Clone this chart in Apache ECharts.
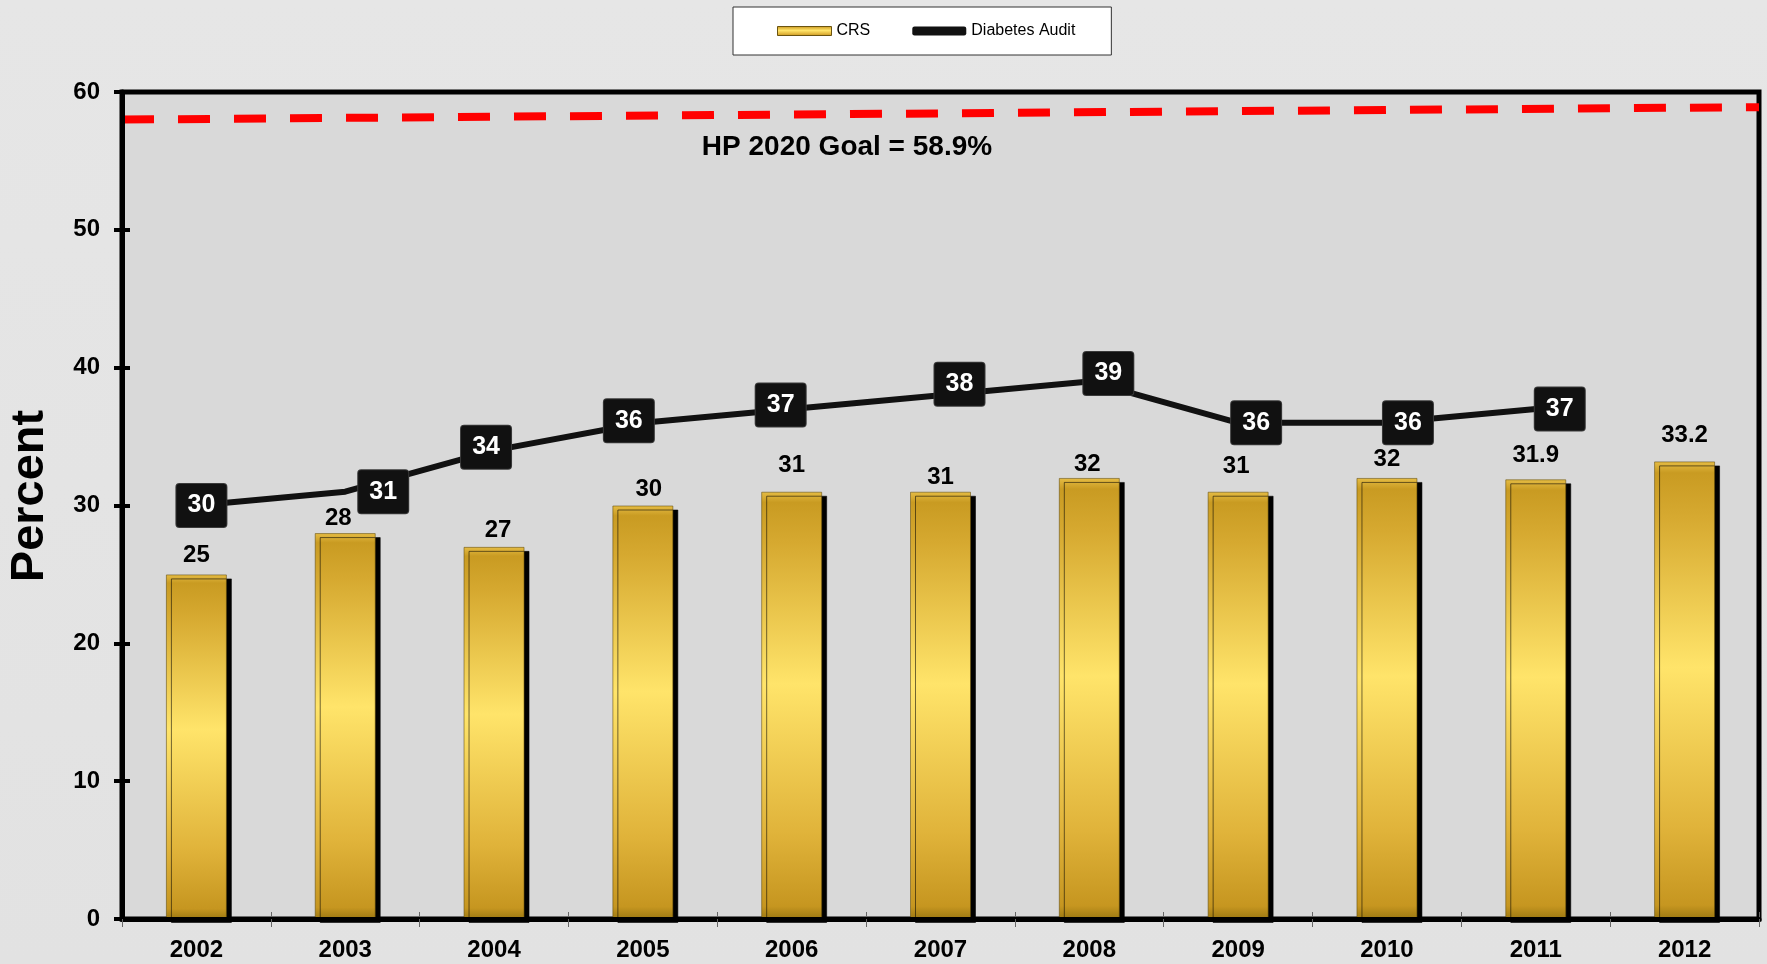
<!DOCTYPE html>
<html>
<head>
<meta charset="utf-8">
<script src="https://cdn.jsdelivr.net/npm/echarts@6/dist/echarts.min.js"></script>
<style>
html,body{margin:0;padding:0;width:1767px;height:964px;overflow:hidden;}
#c{width:1767px;height:964px;background:linear-gradient(180deg,#e6e6e6 0%,#e2e2e2 100%);}
</style>
</head>
<body>
<div id="c"></div>
<script>
var years = ['2002','2003','2004','2005','2006','2007','2008','2009','2010','2011','2012'];
var crs = [25, 28, 27, 30, 31, 31, 32, 31, 32, 31.9, 33.2];
var diabetesAudit = [30, 31, 34, 36, 37, 38, 39, 36, 36, 37, null];
var goalLine = [[0, 58], [11, 58.9]];
var goalText = 'HP 2020 Goal = 58.9%';

var FONT = '"Liberation Sans", Arial, sans-serif';
var chart = echarts.init(document.getElementById('c'), null, {renderer: 'canvas'});

// label placement nudges (pixels), as in the original slide
var barLabelNudge = [[0,-4],[-7,0],[4,-1],[6,-1],[0,-11],[0,1],[-2,1],[-2,-10],[0,-4],[0,-9],[0,-11]];
var lineLabelNudge = [[5,0],[38,0],[-8,-3],[-14,-2],[-11,-4],[19,-11],[19,-8],[18,0],[21,0],[24,0],[0,0]];

var barGrad = new echarts.graphic.LinearGradient(0, 0, 0, 1, [
  {offset: 0, color: '#e6bd45'},
  {offset: 0.025, color: '#c99b22'},
  {offset: 0.12, color: '#d6a930'},
  {offset: 0.45, color: '#ffe46a'},
  {offset: 0.8, color: '#e0b33a'},
  {offset: 0.97, color: '#c69620'},
  {offset: 1, color: '#9c7812'}
]);

var barData = crs.map(function (v, i) {
  return {value: v, label: {offset: barLabelNudge[i]}};
});
var lineData = diabetesAudit.map(function (v, i) {
  return {value: v, label: {offset: lineLabelNudge[i]}};
});

var option = {
  animation: false,
  backgroundColor: 'transparent',
  textStyle: {fontFamily: FONT},
  legend: {
    left: 733, top: 7,
    padding: [15, 36, 15, 44],
    itemGap: 42,
    itemWidth: 54, itemHeight: 9,
    backgroundColor: '#ffffff',
    borderColor: '#333333', borderWidth: 1,
    textStyle: {fontSize: 16, color: '#000', fontFamily: FONT, lineHeight: 18},
    data: [
      {name: 'CRS', icon: 'rect', itemStyle: {shadowBlur: 0, shadowOffsetX: 0, shadowOffsetY: 0, shadowColor: 'transparent', borderColor: '#6b5410', borderWidth: 1}},
      {name: 'Diabetes Audit', icon: 'roundRect', itemStyle: {color: '#111'}}
    ]
  },
  grid: {
    left: 122, right: 8, top: 92, bottom: 45,
    show: true, backgroundColor: '#d9d9d9',
    borderColor: '#000', borderWidth: 5
  },
  graphic: [
    {type: 'text', x: 30, y: 496, rotation: Math.PI / 2,
     style: {text: 'Percent', font: 'bold 47px ' + FONT, fill: '#000', textAlign: 'center', textVerticalAlign: 'middle'}},
    {type: 'text', x: 847, y: 147, z: 10,
     style: {text: goalText, font: 'bold 28px ' + FONT, fill: '#000', textAlign: 'center', textVerticalAlign: 'middle'}}
  ],
  xAxis: [
    {
      type: 'category', data: years, boundaryGap: true,
      axisLine: {lineStyle: {color: '#000', width: 5}},
      axisTick: {show: true, interval: 0, length: 8, inside: false, lineStyle: {color: '#666', width: 1}},
      axisLabel: {fontSize: 24, fontWeight: 'bold', color: '#000', margin: 19, fontFamily: FONT},
      z: 5
    },
    {
      type: 'value', min: 0, max: 11, interval: 1, position: 'bottom',
      axisLine: {show: false},
      axisTick: {show: true, inside: true, length: 7, lineStyle: {color: '#666', width: 1}},
      axisLabel: {show: false}, splitLine: {show: false}
    }
  ],
  yAxis: [
    {
      type: 'value', min: 0, max: 60, interval: 10,
      axisLine: {show: true, lineStyle: {color: '#000', width: 5}},
      axisTick: {show: true, length: 8, inside: false, lineStyle: {color: '#000', width: 4}},
      axisLabel: {fontSize: 24, fontWeight: 'bold', color: '#000', margin: 22, fontFamily: FONT},
      splitLine: {show: false},
      z: 5
    },
    {
      type: 'value', min: 0, max: 60, interval: 10, position: 'left',
      axisLine: {show: false},
      axisTick: {show: true, length: 8, inside: true, lineStyle: {color: '#000', width: 4}},
      axisLabel: {show: false}, splitLine: {show: false}
    }
  ],
  series: [
    {
      name: 'CRS', type: 'bar', data: barData, xAxisIndex: 0, yAxisIndex: 0,
      barWidth: 61, z: 2,
      itemStyle: {
        color: barGrad,
        borderColor: 'rgba(95,72,10,0.55)', borderWidth: 1,
        shadowColor: '#000', shadowBlur: 0, shadowOffsetX: 5, shadowOffsetY: 4
      },
      label: {show: true, position: 'top', distance: 3, fontSize: 24, fontWeight: 'bold', color: '#000', fontFamily: FONT}
    },
    {
      name: 'Diabetes Audit', type: 'line', data: lineData, xAxisIndex: 0, yAxisIndex: 0,
      z: 4, connectNulls: false,
      lineStyle: {color: '#111', width: 6},
      itemStyle: {color: '#111'},
      symbol: 'circle', symbolSize: 2, showSymbol: true,
      label: {
        show: true, position: 'inside',
        backgroundColor: '#111', borderColor: '#3a3a3a', borderWidth: 1, borderRadius: 3,
        width: 50, height: 43, lineHeight: 43, align: 'center', verticalAlign: 'middle',
        fontSize: 25, fontWeight: 'bold', color: '#fff', fontFamily: FONT
      }
    },
    {
      name: 'HP 2020 Goal', type: 'line', data: goalLine, xAxisIndex: 1, yAxisIndex: 0,
      z: 3, symbol: 'none', silent: true,
      lineStyle: {color: '#ff0000', width: 8, type: [32, 24], cap: 'butt'}
    }
  ]
};
chart.setOption(option);
</script>
</body>
</html>
